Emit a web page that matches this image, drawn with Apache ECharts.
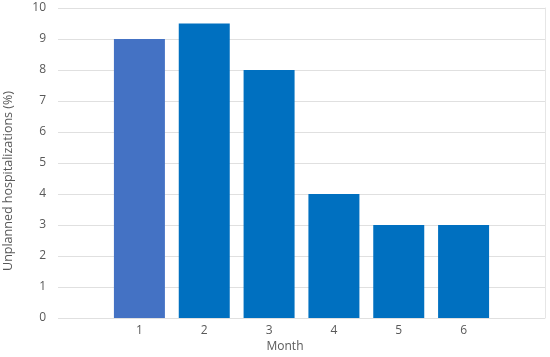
<!DOCTYPE html>
<html><head><meta charset="utf-8">
<script src="https://cdn.jsdelivr.net/npm/echarts@6/dist/echarts.min.js"></script>
<style>html,body{margin:0;padding:0;background:#fff}#c{width:550px;height:357px}</style>
</head><body><div id="c"></div>
<script>
const categories = ['1','2','3','4','5','6'];
const values = [9, 9.5, 8, 4, 3, 3];
const yTicks = [0,1,2,3,4,5,6,7,8,9,10];
const barColors = ['#4472C4','#0070C0','#0070C0','#0070C0','#0070C0','#0070C0'];
const yTitle = 'Unplanned hospitalizations (%)';
const xTitle = 'Month';

const font = '"Open Sans", "Noto Sans", sans-serif';
const textColor = '#595959';
const chart = echarts.init(document.getElementById('c'), null, {renderer:'canvas'});
chart.setOption({
  animation:false,
  grid:[
    {left:58, right:5, top:8, bottom:39},
    {left:107, right:54, top:8, bottom:39}
  ],
  xAxis:[
    {gridIndex:0, type:'category', data:categories, show:false},
    {gridIndex:1, type:'category', data:categories,
     axisLine:{show:false}, axisTick:{show:false},
     axisLabel:{color:textColor, fontFamily:font, fontSize:12, margin:7}}
  ],
  yAxis:[
    {gridIndex:0, type:'value', min:yTicks[0], max:yTicks[yTicks.length-1], interval:1,
     axisLine:{show:false}, axisTick:{show:false},
     splitLine:{lineStyle:{color:'#e0e0e0', width:1}},
     axisLabel:{color:textColor, fontFamily:font, fontSize:12, margin:12}},
    {gridIndex:0, type:'value', position:'right', min:0, max:10, interval:1,
     axisLine:{show:true, lineStyle:{color:'#e6e6e6'}}, axisTick:{show:false},
     axisLabel:{show:false}, splitLine:{show:false}},
    {gridIndex:1, type:'value', min:0, max:10, show:false}
  ],
  series:[{
    type:'bar', xAxisIndex:1, yAxisIndex:2, barWidth:51,
    data: values.map((v,i)=>({value:v, itemStyle:{color:barColors[i]}}))
  }],
  graphic:[
    {type:'text', x:8, y:181, rotation:Math.PI/2,
     style:{text:yTitle, fill:textColor, font:'12.5px '+font, align:'center', verticalAlign:'middle'}},
    {type:'text', x:285, y:347,
     style:{text:xTitle, fill:textColor, font:'12px '+font, align:'center', verticalAlign:'middle'}}
  ]
});
</script></body></html>
